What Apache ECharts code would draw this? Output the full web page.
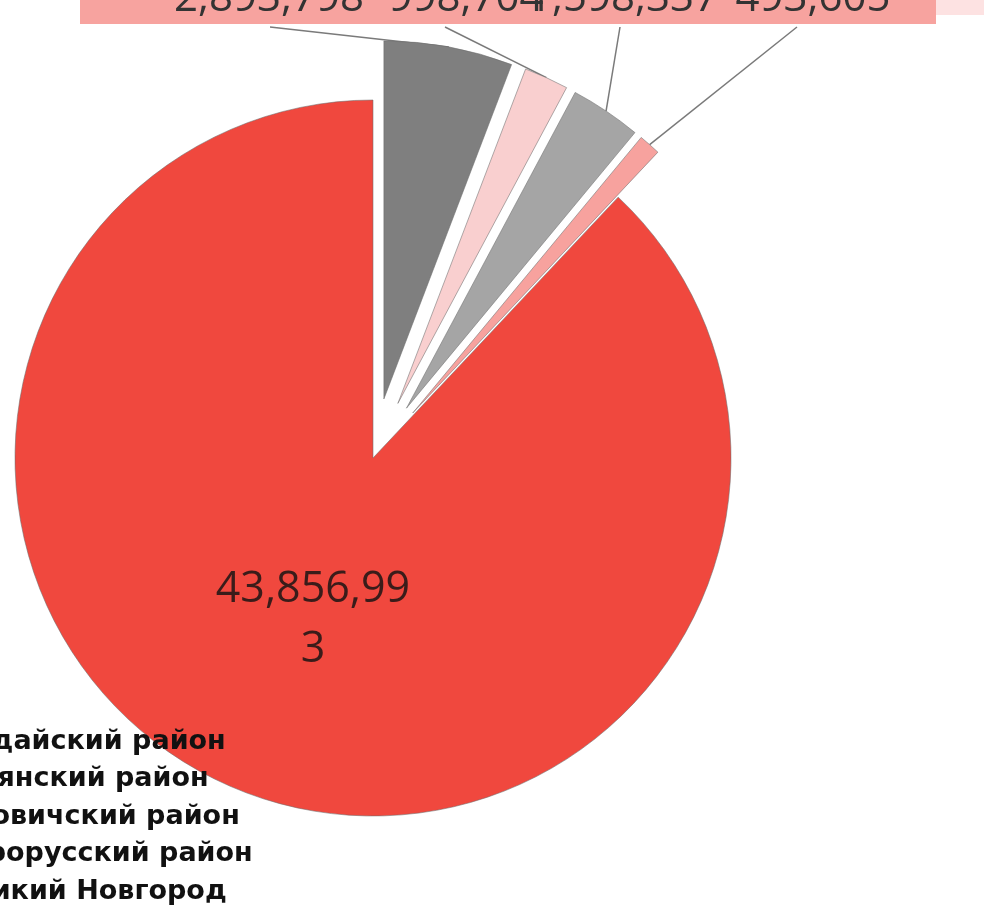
<!DOCTYPE html>
<html>
<head>
<meta charset="utf-8">
<script src="https://cdn.jsdelivr.net/npm/echarts@6/dist/echarts.min.js"></script>
<style>
html,body{margin:0;padding:0;background:#fff;}
#chart{width:984px;height:906px;}
</style>
</head>
<body>
<div id="chart"></div>
<script>
// Data
var districts = ['Валдайский район', 'Демянский район', 'Боровичский район', 'Старорусский район', 'Великий Новгород'];
var values = [2893798, 998704, 1598337, 493605, 43856993];
var colors = ['#7f7f7f', '#f9cfcf', '#a5a5a5', '#f7a29e', '#f0483e'];

// Layout constants
var labelX = [269, 466, 623, 813];   // centre x of the outside labels
var lineTopX = [270, 445, 620, 797]; // x where the leader lines meet the label band
var CX = 373, CY = 458, R = 358, EXPLODE = 60;

function fmt(v) {
  return String(v).replace(/\B(?=(\d{3})+(?!\d))/g, ',');
}

var chart = echarts.init(document.getElementById('chart'), null, {renderer: 'canvas'});

var total = values.reduce(function (s, v) { return s + v; }, 0);
var cum = 0;
var series = values.map(function (v, i) {
  var a = cum / total, b = (cum + v) / total;
  cum += v;
  var big = i === values.length - 1;
  var mid = (a + b) * Math.PI; // bisector, radians clockwise from 12 o'clock
  var off = big ? 0 : EXPLODE;
  return {
    type: 'pie',
    center: [CX + off * Math.sin(mid), CY - off * Math.cos(mid)],
    radius: R,
    startAngle: 90 - 360 * a,
    endAngle: 90 - 360 * b,
    clockwise: true,
    avoidLabelOverlap: false,
    emphasis: {disabled: true},
    silent: true,
    itemStyle: {borderColor: 'rgba(110,110,110,0.55)', borderWidth: 1},
    label: big ? {
      show: true,
      position: 'inside',
      formatter: function (p) { return fmt(p.value); },
      fontFamily: 'Open Sans, Liberation Sans, sans-serif',
      fontSize: 43,
      lineHeight: 60,
      width: 200,
      overflow: 'breakAll',
      color: '#3a1c1a'
    } : {
      show: true,
      position: 'outside',
      formatter: function (p) { return fmt(p.value); },
      fontFamily: 'Open Sans, Liberation Sans, sans-serif',
      fontSize: 42,
      color: '#333'
    },
    labelLine: {show: !big, lineStyle: {color: '#7a7a7a', width: 1.5}},
    labelLayout: big ? function () { return {dx: 7, dy: -7}; } : function (p) {
      var pts = p.labelLinePoints;
      var start = pts ? pts[0] : [CX, CY - R];
      return {
        x: labelX[i],
        y: -1,
        align: 'center',
        verticalAlign: 'middle',
        labelLinePoints: [start, start, [lineTopX[i], 27]]
      };
    },
    data: [{name: districts[i], value: v, itemStyle: {color: colors[i]}}]
  };
});

chart.setOption({
  animation: false,
  graphic: [
    {type: 'rect', z: -10, shape: {x: 80, y: 0, width: 856, height: 24}, style: {fill: '#f7a39f'}},
    {type: 'rect', z: -10, shape: {x: 936, y: 0, width: 48, height: 15}, style: {fill: '#fde2e2'}}
  ],
  legend: {
    orient: 'vertical',
    left: -87,
    top: 728,
    padding: 0,
    itemWidth: 14,
    itemHeight: 14,
    itemGap: 10.5,
    data: districts,
    textStyle: {
      fontFamily: 'DejaVu Sans, sans-serif',
      fontWeight: 'bold',
      fontSize: 27,
      lineHeight: 27,
      color: '#111'
    }
  },
  series: series
});
</script>
</body>
</html>
